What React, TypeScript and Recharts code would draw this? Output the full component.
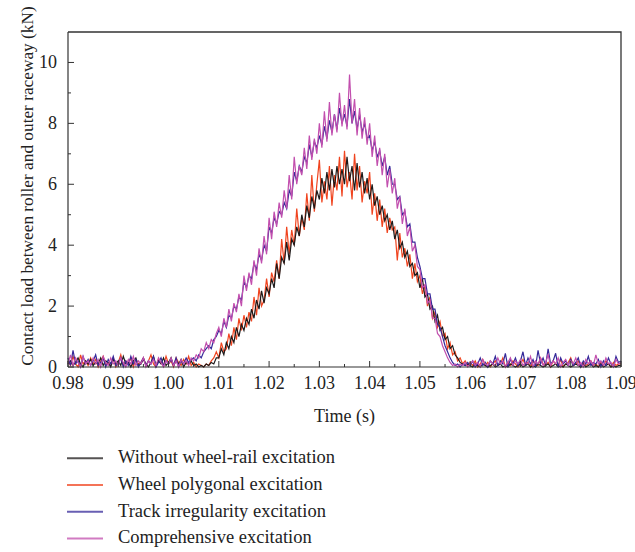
import React from 'react';
import { LineChart, Line, XAxis, YAxis } from 'recharts';

// Time axis: 0.98 s to 1.09 s, sampled every 0.0005 s (rows of 0.005 s)
const TIME_START = 0.98;
const TIME_STEP = 0.0005;

const withoutExcitation = [
  0.1, 0.2, 0.05, 0.15, 0.3, 0.1, 0.0, 0.2, 0.1, 0.25,
  0.05, 0.15, 0.1, 0.3, 0.05, 0.2, 0.15, 0.0, 0.25, 0.1,
  0.2, 0.05, 0.35, 0.1, 0.15, 0.0, 0.2, 0.3, 0.05, 0.1,
  0.25, 0.1, 0.0, 0.15, 0.35, 0.05, 0.2, 0.1, 0.3, 0.05,
  0.15, 0.3, 0.05, 0.2, 0.1, 0.25, 0.0, 0.15, 0.1, 0.2,
  0.05, 0.1, 0.0, 0.05, 0.0, 0.1, 0.05, 0.15, 0.1, 0.3,
  0.3, 0.6, 0.4, 0.8, 0.6, 1.0, 0.8, 1.3, 1.0, 1.4,
  1.2, 1.6, 1.4, 1.9, 1.6, 2.2, 1.9, 2.5, 2.1, 2.6,
  2.4, 2.9, 2.6, 3.4, 2.9, 3.6, 3.4, 4.1, 3.5, 4.2,
  4.0, 4.6, 4.3, 5.0, 4.6, 5.3, 4.9, 5.6, 5.2, 5.8,
  5.5, 6.2, 5.7, 6.4, 5.8, 6.5, 5.9, 6.6, 6.0, 6.5,
  6.0, 6.9, 6.1, 6.6, 5.8, 6.7, 5.9, 6.4, 5.7, 6.2,
  5.5, 6.0, 5.3, 5.6, 5.0, 5.3, 4.8, 5.0, 4.5, 4.8,
  4.2, 4.5, 3.9, 4.1, 3.6, 3.8, 3.3, 3.4, 3.0, 3.1,
  2.6, 2.9, 2.3, 2.4, 1.9, 2.0, 1.5, 1.7, 1.2, 1.3,
  0.9, 1.0, 0.6, 0.7, 0.4, 0.3, 0.15, 0.1, 0.05, 0.1,
  0.05, 0.0, 0.1, 0.05, 0.0, 0.1, 0.05, 0.0, 0.05, 0.1,
  0.0, 0.05, 0.1, 0.0, 0.05, 0.0, 0.1, 0.05, 0.0, 0.05,
  0.1, 0.0, 0.05, 0.1, 0.0, 0.05, 0.0, 0.1, 0.05, 0.0,
  0.05, 0.1, 0.0, 0.05, 0.1, 0.0, 0.05, 0.0, 0.1, 0.05,
  0.0, 0.05, 0.1, 0.05, 0.0, 0.1, 0.0, 0.05, 0.1, 0.0,
  0.05, 0.0, 0.1, 0.0, 0.05, 0.1, 0.0, 0.05, 0.0, 0.05,
  0.05,
];

const wheelPolygonal = [
  0.2, 0.05, 0.35, 0.1, 0.0, 0.4, 0.1, 0.2, 0.05, 0.3,
  0.1, 0.25, 0.0, 0.2, 0.35, 0.05, 0.15, 0.1, 0.3, 0.0,
  0.15, 0.4, 0.05, 0.2, 0.1, 0.3, 0.0, 0.25, 0.1, 0.15,
  0.3, 0.05, 0.2, 0.4, 0.1, 0.0, 0.25, 0.15, 0.05, 0.35,
  0.1, 0.2, 0.0, 0.3, 0.15, 0.05, 0.25, 0.1, 0.35, 0.05,
  0.15, 0.0, 0.1, 0.05, 0.0, 0.1, 0.05, 0.2, 0.3, 0.5,
  0.3, 0.8, 0.5, 0.6, 1.1, 0.7, 1.3, 0.9, 1.6, 1.2,
  1.7, 1.3, 1.8, 1.5, 2.3, 1.7, 2.6, 2.0, 2.2, 2.9,
  2.3, 3.1, 2.8, 3.5, 2.9, 4.2, 3.4, 4.6, 3.7, 4.5,
  4.0, 5.2, 4.3, 4.9, 4.5, 5.7, 4.8, 6.3, 5.1, 6.0,
  6.8, 5.4, 6.1, 5.5, 6.6, 5.3, 6.3, 5.8, 6.9, 5.6,
  7.1, 5.9, 6.4, 5.5, 7.0, 5.8, 6.6, 5.4, 6.1, 5.7,
  6.4, 5.0, 5.7, 4.8, 5.5, 4.6, 5.2, 4.4, 4.9, 4.5,
  4.6, 3.5, 4.4, 3.6, 3.9, 3.3, 3.7, 2.9, 3.4, 2.8,
  3.0, 2.4, 2.7, 2.0, 2.3, 1.6, 1.8, 1.3, 1.5, 1.0,
  1.1, 0.6, 0.8, 0.4, 0.5, 0.2, 0.3, 0.1, 0.2, 0.05,
  0.15, 0.05, 0.2, 0.0, 0.1, 0.25, 0.05, 0.15, 0.0, 0.1,
  0.2, 0.05, 0.1, 0.3, 0.0, 0.15, 0.05, 0.2, 0.1, 0.0,
  0.1, 0.25, 0.05, 0.15, 0.0, 0.2, 0.1, 0.05, 0.3, 0.1,
  0.05, 0.15, 0.0, 0.2, 0.1, 0.05, 0.25, 0.0, 0.1, 0.15,
  0.3, 0.05, 0.1, 0.2, 0.0, 0.15, 0.05, 0.1, 0.2, 0.05,
  0.1, 0.0, 0.15, 0.05, 0.2, 0.1, 0.0, 0.15, 0.05, 0.1,
  0.1,
];

const trackIrregularity = [
  0.3, 0.05, 0.55, 0.1, 0.2, 0.0, 0.35, 0.1, 0.25, 0.05,
  0.2, 0.4, 0.05, 0.15, 0.3, 0.0, 0.25, 0.1, 0.35, 0.05,
  0.1, 0.3, 0.0, 0.2, 0.05, 0.35, 0.1, 0.25, 0.0, 0.15,
  0.3, 0.05, 0.2, 0.1, 0.35, 0.0, 0.15, 0.3, 0.05, 0.2,
  0.1, 0.25, 0.05, 0.3, 0.0, 0.2, 0.1, 0.3, 0.15, 0.25,
  0.3, 0.2, 0.4, 0.3, 0.5, 0.6, 0.7, 0.6, 0.9, 1.0,
  1.2, 1.1, 1.5, 1.3, 1.7, 1.6, 2.0, 1.9, 2.3, 2.2,
  2.8, 2.6, 3.0, 2.9, 3.4, 3.2, 3.7, 3.5, 4.0, 3.8,
  4.6, 4.4, 4.9, 4.7, 5.1, 5.0, 5.4, 5.2, 5.8, 5.6,
  6.4, 6.1, 6.6, 6.4, 6.9, 6.7, 7.3, 6.9, 7.4, 7.2,
  7.6, 7.3, 7.9, 7.5, 8.1, 7.7, 8.3, 7.8, 8.5, 8.0,
  8.3, 7.9, 8.8, 8.0, 8.4, 7.8, 8.3, 7.7, 8.0, 7.5,
  7.6, 7.1, 7.4, 6.9, 7.1, 6.6, 6.9, 6.3, 6.6, 6.0,
  6.0, 5.5, 5.6, 5.0, 5.1, 4.6, 4.7, 4.1, 4.1, 3.6,
  3.3, 2.9, 2.9, 2.4, 2.4, 1.9, 1.9, 1.4, 1.3, 1.0,
  0.7, 0.5, 0.3, 0.15, 0.05, 0.1, 0.0, 0.1, 0.05, 0.15,
  0.05, 0.2, 0.0, 0.1, 0.3, 0.05, 0.15, 0.0, 0.2, 0.1,
  0.35, 0.05, 0.2, 0.1, 0.45, 0.0, 0.25, 0.1, 0.3, 0.05,
  0.2, 0.5, 0.05, 0.3, 0.1, 0.25, 0.0, 0.55, 0.1, 0.3,
  0.05, 0.6, 0.1, 0.2, 0.45, 0.0, 0.3, 0.1, 0.2, 0.05,
  0.25, 0.05, 0.15, 0.3, 0.0, 0.2, 0.1, 0.35, 0.05, 0.15,
  0.1, 0.25, 0.0, 0.2, 0.05, 0.3, 0.1, 0.0, 0.35, 0.15,
  0.2,
];

const comprehensive = [
  0.1, 0.4, 0.05, 0.3, 0.15, 0.0, 0.35, 0.1, 0.2, 0.05,
  0.3, 0.1, 0.25, 0.0, 0.35, 0.15, 0.05, 0.3, 0.1, 0.2,
  0.05, 0.3, 0.15, 0.0, 0.25, 0.1, 0.35, 0.05, 0.2, 0.1,
  0.3, 0.0, 0.2, 0.1, 0.25, 0.05, 0.3, 0.15, 0.0, 0.2,
  0.1, 0.3, 0.05, 0.2, 0.0, 0.25, 0.1, 0.2, 0.05, 0.3,
  0.2, 0.4, 0.3, 0.6, 0.5, 0.8, 0.6, 0.9, 0.8, 1.1,
  1.3, 1.0, 1.6, 1.3, 1.9, 1.5, 2.1, 1.8, 2.4, 2.0,
  3.0, 2.5, 3.1, 2.7, 3.5, 3.0, 3.9, 3.4, 4.3, 3.7,
  4.9, 4.2, 5.1, 4.6, 5.4, 4.9, 5.8, 5.2, 6.3, 5.5,
  6.9, 6.0, 6.6, 6.3, 7.2, 6.5, 7.6, 6.8, 7.5, 7.0,
  8.0, 7.2, 8.4, 7.4, 8.7, 7.6, 8.3, 7.7, 9.0, 7.9,
  8.6, 7.8, 9.6, 8.0, 8.8, 7.6, 8.5, 7.5, 8.2, 7.3,
  8.0, 6.9, 7.6, 6.6, 7.2, 6.3, 7.0, 5.9, 6.5, 5.7,
  6.2, 5.2, 5.6, 4.7, 5.2, 4.3, 4.6, 3.8, 4.0, 3.3,
  3.2, 2.6, 2.7, 2.1, 2.2, 1.6, 1.6, 1.1, 1.0, 0.7,
  0.5, 0.3, 0.15, 0.05, 0.1, 0.0, 0.1, 0.05, 0.15, 0.0,
  0.1, 0.2, 0.05, 0.15, 0.0, 0.25, 0.1, 0.05, 0.2, 0.1,
  0.05, 0.3, 0.1, 0.2, 0.0, 0.15, 0.3, 0.05, 0.2, 0.1,
  0.25, 0.05, 0.15, 0.1, 0.35, 0.0, 0.2, 0.1, 0.3, 0.05,
  0.15, 0.4, 0.05, 0.2, 0.1, 0.3, 0.0, 0.15, 0.25, 0.05,
  0.2, 0.1, 0.3, 0.05, 0.15, 0.0, 0.25, 0.1, 0.2, 0.05,
  0.4, 0.1, 0.2, 0.05, 0.3, 0.1, 0.15, 0.0, 0.25, 0.1,
  0.15,
];

const X_DOMAIN = [0.98, 1.09];
const Y_DOMAIN = [0, 11];
const X_TICKS = [
  0.98, 0.985, 0.99, 0.995, 1.0, 1.005, 1.01, 1.015, 1.02, 1.025, 1.03, 1.035,
  1.04, 1.045, 1.05, 1.055, 1.06, 1.065, 1.07, 1.075, 1.08, 1.085, 1.09,
];
const Y_TICKS = [0, 1, 2, 3, 4, 5, 6, 7, 8, 9, 10];

const SERIES = [
  { key: 'polygon', name: 'Wheel polygonal excitation', color: '#f0441f', values: wheelPolygonal },
  { key: 'without', name: 'Without wheel-rail excitation', color: '#1e1a1a', values: withoutExcitation },
  { key: 'track', name: 'Track irregularity excitation', color: '#35299a', values: trackIrregularity },
  { key: 'comp', name: 'Comprehensive excitation', color: '#c24fae', values: comprehensive },
];
const LEGEND_ORDER = ['without', 'polygon', 'track', 'comp'];

const data = withoutExcitation.map((_, i) => {
  const row: Record<string, number> = { t: Math.round((TIME_START + i * TIME_STEP) * 100000) / 100000 };
  SERIES.forEach((s) => {
    row[s.key] = s.values[i];
  });
  return row;
});

const FONT = '"Liberation Serif", "Times New Roman", serif';
const AXIS = '#333333';

// chart layout (pixels)
const CHART_W = 635;
const CHART_H = 440;
const MARGIN = { top: 32, right: 14, left: 10, bottom: 13 };
const Y_AXIS_W = 58;
const X_AXIS_H = 60;

const XTick = (props: any) => {
  const { x, y, index, payload } = props;
  const major = index % 2 === 0;
  return (
    <g>
      <line x1={x} y1={y} x2={x} y2={y - (major ? 6 : 3)} stroke={AXIS} strokeWidth={1} />
      {major && (
        <text x={x} y={y + 22} textAnchor="middle" fontFamily={FONT} fontSize={18} fill="#222">
          {Number(payload.value).toFixed(2)}
        </text>
      )}
    </g>
  );
};

const YTick = (props: any) => {
  const { x, y, payload } = props;
  const major = payload.value % 2 === 0;
  return (
    <g>
      <line x1={x} y1={y} x2={x + (major ? 6 : 3)} y2={y} stroke={AXIS} strokeWidth={1} />
      {major && (
        <text x={x - 11} y={y} dy="0.33em" textAnchor="end" fontFamily={FONT} fontSize={18} fill="#222">
          {payload.value}
        </text>
      )}
    </g>
  );
};

const YLabel = () => (
  <text
    x={33}
    y={186}
    transform="rotate(-90 33 186)"
    textAnchor="middle"
    fontFamily={FONT}
    fontSize={17.3}
    fill="#222"
  >
    Contact load between roller and outer raceway (kN)
  </text>
);

export default function App() {
  const plotLeft = MARGIN.left + Y_AXIS_W;
  const plotTop = MARGIN.top;
  const plotRight = CHART_W - MARGIN.right;
  const plotBottom = CHART_H - MARGIN.bottom - X_AXIS_H;
  return (
    <div style={{ position: 'absolute', left: 0, top: 0, width: 635, height: 552, background: '#fff', fontFamily: FONT }}>
      <LineChart width={CHART_W} height={CHART_H} data={data} margin={MARGIN}>
        <XAxis
          dataKey="t"
          type="number"
          domain={X_DOMAIN}
          ticks={X_TICKS}
          interval={0}
          tickSize={0}
          tickMargin={0}
          tickLine={false}
          tick={<XTick />}
          height={X_AXIS_H}
          axisLine={{ stroke: AXIS, strokeWidth: 1.2 }}
          label={{ value: 'Time (s)', position: 'insideBottom', offset: 5, fontFamily: FONT, fontSize: 18, fill: '#222' }}
        />
        <YAxis
          type="number"
          domain={Y_DOMAIN}
          ticks={Y_TICKS}
          interval={0}
          tickSize={0}
          tickMargin={0}
          tickLine={false}
          tick={<YTick />}
          width={Y_AXIS_W}
          axisLine={{ stroke: AXIS, strokeWidth: 1.2 }}
          label={{ content: <YLabel /> }}
        />
        {SERIES.map((s) => (
          <Line
            key={s.key}
            dataKey={s.key}
            name={s.name}
            stroke={s.color}
            strokeWidth={1.2}
            dot={false}
            type="linear"
            isAnimationActive={false}
          />
        ))}
      </LineChart>
      {/* plot frame (top and right edges) */}
      <svg
        width={635}
        height={440}
        style={{ position: 'absolute', left: 0, top: 0, pointerEvents: 'none', overflow: 'visible' }}
      >
        <path
          d={`M${plotLeft} ${plotTop} H${plotRight} V${plotBottom}`}
          fill="none"
          stroke={AXIS}
          strokeWidth={1.3}
        />
      </svg>
      <svg width={635} height={112} style={{ position: 'absolute', left: 0, top: 440 }}>
        {LEGEND_ORDER.map((k, i) => {
          const s = SERIES.find((v) => v.key === k)!;
          const yy = 18.3 + i * 26.7;
          return (
            <g key={k}>
              <line x1={67} x2={103} y1={yy} y2={yy} stroke={s.color} strokeWidth={2} strokeOpacity={0.75} />
              <text x={118} y={yy + 5} fontFamily={FONT} fontSize={18.5} fill="#222">
                {s.name}
              </text>
            </g>
          );
        })}
      </svg>
    </div>
  );
}
